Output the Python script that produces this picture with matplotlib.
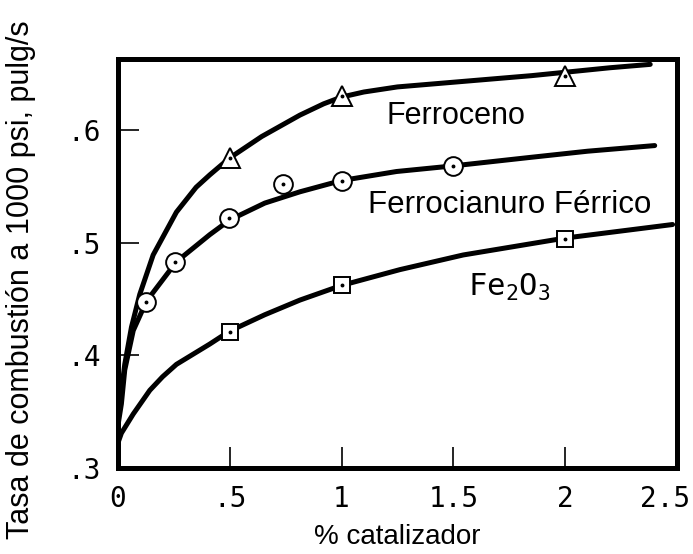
import matplotlib
matplotlib.use("Agg")
import matplotlib.pyplot as plt
from matplotlib.transforms import ScaledTranslation

# curves (x = % catalizador, y = tasa)
ferroceno_x = [0, 0.009, 0.031, 0.061, 0.098, 0.158, 0.262, 0.35, 0.411, 0.5, 0.643, 0.814, 0.92, 1.0, 1.1,
               1.25, 1.55, 1.85, 2.0, 2.2, 2.38]
ferroceno_y = [0.340, 0.357, 0.392, 0.425, 0.454, 0.489, 0.527, 0.549, 0.560, 0.575, 0.594, 0.613, 0.623, 0.629, 0.6335,
               0.638, 0.643, 0.648, 0.651, 0.655, 0.658]

ferrociano_x = [0, 0.016, 0.031, 0.069, 0.128, 0.262, 0.411, 0.5, 0.657, 0.814, 1.0, 1.246, 1.5, 1.843, 2.1, 2.40]
ferrociano_y = [0.337, 0.357, 0.387, 0.422, 0.448, 0.483, 0.507, 0.520, 0.535, 0.545, 0.555, 0.563, 0.568, 0.5755, 0.581, 0.586]

fe2o3_x = [0, 0.016, 0.069, 0.143, 0.2, 0.262, 0.411, 0.5, 0.657, 0.814, 1.0, 1.261, 1.544, 2.0, 2.48]
fe2o3_y = [0.322, 0.331, 0.348, 0.369, 0.381, 0.392, 0.410, 0.4215, 0.436, 0.449, 0.462, 0.476, 0.489, 0.504, 0.516]

# measured points
tri_x = [0.5, 1.0, 2.0]
tri_y = [0.575, 0.630, 0.648]
circ_x = [0.128, 0.256, 0.498, 0.739, 1.0, 1.5]
circ_y = [0.447, 0.483, 0.522, 0.552, 0.555, 0.568]
sq_x = [0.5, 1.0, 2.0]
sq_y = [0.421, 0.462, 0.503]

xticks = [0, 0.5, 1, 1.5, 2, 2.5]
xtick_labels = ["0", ".5", "1", "1.5", "2", "2.5"]
yticks = [0.3, 0.4, 0.5, 0.6]
ytick_labels = [".3", ".4", ".5", ".6"]

tick_font = "DejaVu Sans Mono"
plt.rcParams["mathtext.fontset"] = "custom"
plt.rcParams["mathtext.rm"] = tick_font
plt.rcParams["mathtext.it"] = tick_font

fig = plt.figure(figsize=(6.93, 5.54), dpi=100, facecolor="white")
ax = fig.add_axes([0.170, 0.155, 0.807, 0.739])

lw = 3.6
for cx, cy in [(ferroceno_x, ferroceno_y), (ferrociano_x, ferrociano_y), (fe2o3_x, fe2o3_y)]:
    ax.plot(cx, cy, color="black", lw=lw, solid_capstyle="round", solid_joinstyle="round", zorder=2)

mk = dict(color="black", mfc="white", mec="black", mew=1.4, ls="none", zorder=3)
ax.plot(tri_x, tri_y, marker="^", ms=14, **mk)
ax.plot(circ_x, circ_y, marker="o", ms=13.5, **mk)
ax.plot(sq_x, sq_y, marker="s", ms=12, **mk)
for px, py in [(tri_x, tri_y), (circ_x, circ_y), (sq_x, sq_y)]:
    ax.plot(px, py, marker="o", ms=1.8, color="black", ls="none", zorder=4)

ax.set_xlim(0, 2.5)
ax.set_ylim(0.303, 0.663)

for s in ax.spines.values():
    s.set_linewidth(3.6)

ax.set_xticks(xticks)
ax.set_xticklabels(xtick_labels, family=tick_font, fontsize=20)
ax.set_yticks(yticks)
ax.set_yticklabels(ytick_labels, family=tick_font, fontsize=20)
ax.tick_params(axis="both", direction="in", length=15, width=1.2, color="black")
ax.tick_params(axis="x", pad=12)
ax.tick_params(axis="y", pad=12)

# last x label sits a bit left of its tick in the original
last = ax.get_xticklabels()[-1]
last.set_transform(last.get_transform() + ScaledTranslation(-0.12, 0, fig.dpi_scale_trans))

ax.set_xlabel("% catalizador", family="Liberation Sans", fontsize=20, labelpad=8)
ax.set_ylabel("Tasa de combustión a 1000 psi, pulg/s", family="Liberation Sans", fontsize=22)
ax.yaxis.set_label_coords(-0.147, 0.46)

ax.text(1.199, 0.605, "Ferroceno", family="Liberation Sans", fontsize=22, ha="left", va="baseline")
ax.text(1.118, 0.526, "Ferrocianuro Férrico", family="Liberation Sans", fontsize=22.5, ha="left", va="baseline")
ax.text(1.565, 0.453, r"Fe$_{2}$O$_{3}$", family=tick_font, fontsize=22, ha="left", va="baseline")

fig.savefig("out.png", dpi=100, facecolor="white")
